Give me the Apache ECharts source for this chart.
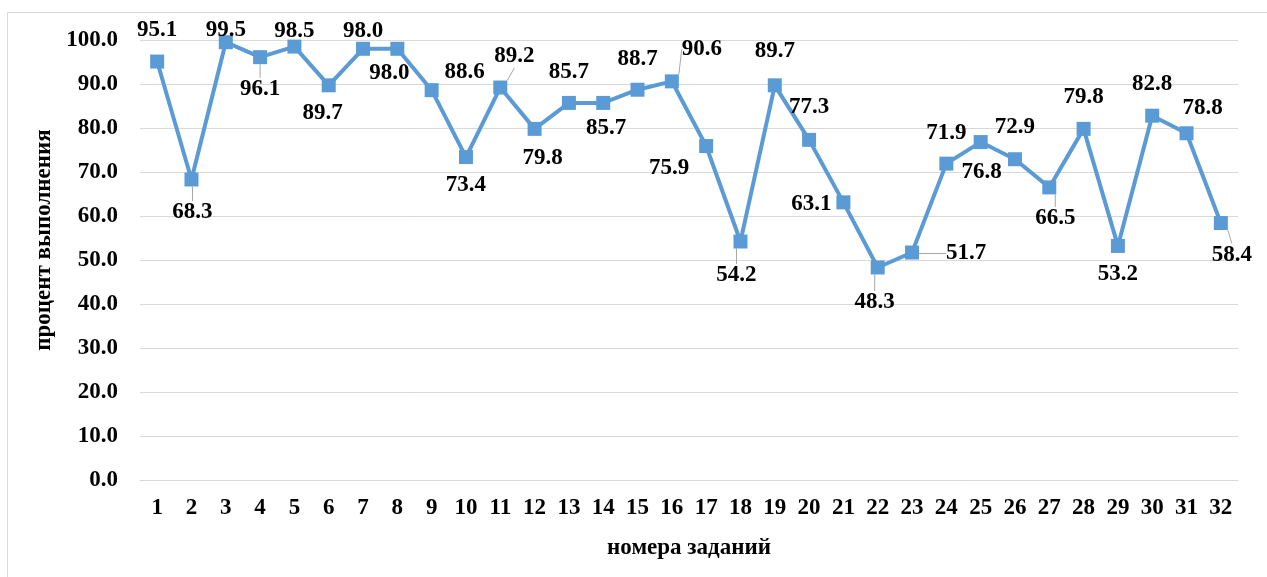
<!DOCTYPE html>
<html>
<head>
<meta charset="utf-8">
<script src="https://cdn.jsdelivr.net/npm/echarts@6/dist/echarts.min.js"></script>
<style>
html,body{margin:0;padding:0;background:#fff;}
#chart{width:1267px;height:577px;}
</style>
</head>
<body>
<div id="chart"></div>
<script>
const categories = ['1','2','3','4','5','6','7','8','9','10','11','12','13','14','15','16','17','18','19','20','21','22','23','24','25','26','27','28','29','30','31','32'];
const values = [95.1,68.3,99.5,96.1,98.5,89.7,98.0,98.0,88.6,73.4,89.2,79.8,85.7,85.7,88.7,90.6,75.9,54.2,89.7,77.3,63.1,48.3,51.7,71.9,76.8,72.9,66.5,79.8,53.2,82.8,78.8,58.4];
const yTicks = [0,10,20,30,40,50,60,70,80,90,100];
const xTitle = 'номера заданий';
const yTitle = 'процент выполнения';
// label placement (offset from point) and leader line flags
const labelDx = [0,1,0,0,0,-6,0,-8,33,0,14,8,0,3,0,30,-37,-4,0,0,-32,-3,54,0,1,0,6,0,0,0,16,11];
const labelDy = [-31,33,-12,32,-16,28,-18,24,-18,28,-31,29,-31,25,-31,-32,22,34,-34,-33,2,35,1,-31,30,-32,31,-32,28,-32,-25,32];
const leader = [0,1,0,1,0,0,0,0,0,0,1,0,0,0,0,1,0,1,0,0,0,1,1,0,0,0,1,0,0,0,0,1];

const font = 'Liberation Serif';
const fs = 23;
const chart = echarts.init(document.getElementById('chart'));
chart.setOption({
  animation: false,
  backgroundColor: '#fff',
  graphic: [{
    type: 'rect', left: 5, top: 10, silent: true,
    shape: {x: 0, y: 0, width: 1300, height: 600},
    style: {fill: 'none', stroke: '#D9D9D9', lineWidth: 1}
  }],
  grid: {left: 140, right: 29, top: 40, bottom: 97, containLabel: false},
  xAxis: {
    type: 'category', data: categories, boundaryGap: true,
    name: xTitle, nameLocation: 'middle', nameGap: 57,
    nameTextStyle: {fontFamily: font, fontWeight: 'bold', fontSize: fs, color: '#000'},
    axisLine: {show: true, lineStyle: {color: '#D9D9D9', width: 1}},
    axisTick: {show: false},
    axisLabel: {fontFamily: font, fontWeight: 'bold', fontSize: fs, color: '#000', margin: 17, interval: 0}
  },
  yAxis: {
    type: 'value', min: yTicks[0], max: yTicks[yTicks.length-1], interval: 10,
    name: yTitle, nameLocation: 'middle', nameGap: 79, nameRotate: 90,
    nameTextStyle: {fontFamily: font, fontWeight: 'bold', fontSize: fs, color: '#000', padding: [0, 0, 0, 40]},
    axisLine: {show: false}, axisTick: {show: false},
    axisLabel: {fontFamily: font, fontWeight: 'bold', fontSize: fs, color: '#000', margin: 22,
      formatter: v => v.toFixed(1)},
    splitLine: {show: true, lineStyle: {color: '#D9D9D9', width: 1}}
  },
  series: [{
    type: 'line',
    data: values.map((v, i) => ({
      value: v,
      labelLine: {show: !!leader[i]}
    })),
    symbol: 'rect', symbolSize: 14, showAllSymbol: true,
    lineStyle: {color: '#5B9BD5', width: 4},
    itemStyle: {color: '#5B9BD5'},
    z: 3,
    label: {
      show: true, position: 'inside',
      fontFamily: font, fontWeight: 'bold', fontSize: fs, color: '#000',
      formatter: p => p.value.toFixed(1)
    },
    labelLine: {show: false, lineStyle: {color: '#A6A6A6', width: 1}},
    labelLayout: p => ({dx: labelDx[p.dataIndex], dy: labelDy[p.dataIndex]})
  }]
});
</script>
</body>
</html>
